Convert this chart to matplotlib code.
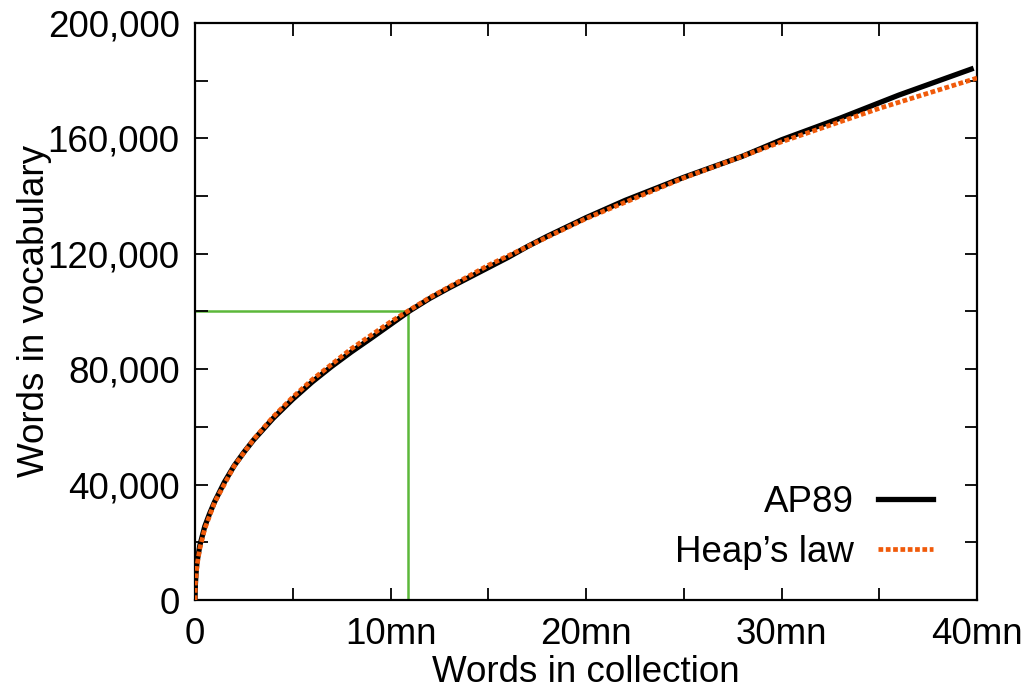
import matplotlib
matplotlib.use("Agg")
import matplotlib.pyplot as plt
from matplotlib.ticker import MultipleLocator, FuncFormatter

# words in collection (millions) / words in vocabulary
ap89_n = [0, 0.02, 0.05, 0.1, 0.25, 0.5, 0.75, 1, 1.5, 2, 2.5, 3, 4, 5, 6, 7, 8, 9, 10,
          11, 12, 13, 14, 15, 16, 17, 18, 20, 22, 25, 28, 30, 33, 36, 39.7]
ap89_v = [0, 5500, 9000, 13000, 19000, 25500, 30000, 34000, 40800, 46500, 51200,
          55500, 63000, 69600, 75600, 81000, 86000, 90700, 95500, 100300, 104500,
          108200, 111700, 115200, 118700, 122500, 126000, 132500, 138500, 146500,
          153800, 159500, 167000, 175000, 184000]

heap_n = [0, 0.02, 0.1, 0.25, 0.5, 1, 2, 3, 4, 5, 6, 8, 10, 12, 15, 20, 25, 30, 35, 40]
heap_v = [0, 5700, 11900, 18000, 24700, 33800, 46400, 55700, 63500, 70300, 76400,
          87100, 96400, 104800, 116000, 132200, 146300, 158800, 170400, 180900]

# green guide lines
mark_n = 10.9
mark_v = 100000

xticks = [0, 10, 20, 30, 40]
yticks = [0, 40000, 80000, 120000, 160000, 200000]

plt.rcParams['font.family'] = ['Liberation Sans', 'DejaVu Sans']
fs = 26.5

fig = plt.figure(figsize=(10.29, 6.87), dpi=100)
ax = fig.add_axes([0.1895, 0.1266, 0.76, 0.84])

ax.plot([0, mark_n], [mark_v, mark_v], color='#5cb83a', lw=1.8, zorder=1)
ax.plot([mark_n, mark_n], [0, mark_v], color='#5cb83a', lw=1.8, zorder=1)
ax.plot(ap89_n, ap89_v, color='black', lw=3.8, label='AP89', zorder=2)
ax.plot(heap_n, heap_v, color='#f05a0a', lw=3.4, dashes=(1, 0.55),
        label='Heap\u2019s law', zorder=3)

ax.set_xlim(0, 40)
ax.set_ylim(0, 200000)
ax.set_xticks(xticks)
ax.xaxis.set_minor_locator(MultipleLocator(5))
ax.set_yticks(yticks)
ax.yaxis.set_minor_locator(MultipleLocator(20000))
ax.xaxis.set_major_formatter(FuncFormatter(lambda v, p: '0' if v == 0 else '%dmn' % v))
ax.yaxis.set_major_formatter(FuncFormatter(lambda v, p: '{:,.0f}'.format(v)))

ax.tick_params(which='both', direction='in', top=True, right=True, width=1.3,
               labelsize=fs, length=9)
ax.tick_params(axis='x', which='both', pad=12)
ax.tick_params(axis='y', which='both', pad=11)
for s in ax.spines.values():
    s.set_linewidth(1.6)

ax.set_xlabel('Words in collection', fontsize=fs)
ax.set_ylabel('Words in vocabulary', fontsize=fs)
ax.xaxis.set_label_coords(0.5, -0.095)
ax.yaxis.set_label_coords(-0.183, 0.5)

ax.legend(loc='lower right', bbox_to_anchor=(0.963, 0.026), frameon=False,
          markerfirst=False, fontsize=fs, handlelength=1.5, handletextpad=0.65,
          labelspacing=0.42, borderaxespad=0)

fig.savefig('out.png', dpi=100)
